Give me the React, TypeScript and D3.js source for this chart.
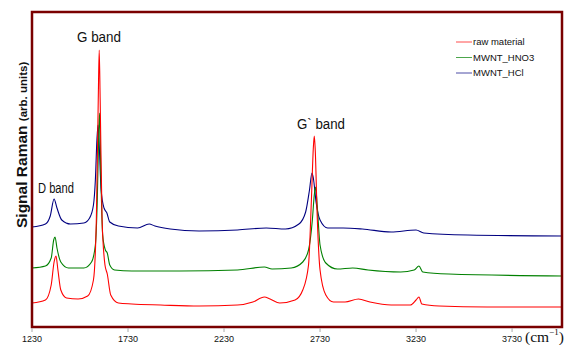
import React, { useEffect, useRef } from "react";
import * as d3 from "d3";

// wavenumber (cm-1), intensity (arb. units)
const rawMaterial: [number, number][] = [
  [1230, 24], [1300, 27], [1330, 42], [1345, 65], [1355, 71], [1365, 57], [1380, 37],
  [1410, 29], [1470, 28], [1520, 31], [1550, 47], [1565, 107], [1575, 227], [1580, 277],
  [1585, 227], [1595, 107], [1610, 62], [1622, 53], [1640, 32], [1680, 24], [1750, 23],
  [1900, 22], [2100, 21], [2300, 22], [2380, 25], [2440, 30], [2470, 28], [2520, 24],
  [2600, 27], [2640, 37], [2670, 62], [2685, 127], [2695, 179], [2700, 191], [2705, 177],
  [2715, 112], [2730, 57], [2760, 32], [2800, 25], [2860, 25], [2930, 28], [2990, 25],
  [3100, 22], [3200, 22], [3230, 27], [3245, 30], [3260, 23], [3350, 21], [3600, 20], [3990, 20],
];

const mwntHNO3: [number, number][] = [
  [1230, 59], [1300, 61], [1330, 69], [1343, 87], [1350, 90], [1360, 79], [1380, 65],
  [1420, 59], [1500, 59], [1540, 65], [1560, 82], [1570, 127], [1578, 197], [1582, 214],
  [1588, 157], [1598, 92], [1612, 77], [1622, 74], [1635, 62], [1660, 57], [1750, 56],
  [2000, 56], [2300, 57], [2440, 60], [2480, 58], [2580, 59], [2640, 65], [2670, 77],
  [2690, 107], [2700, 132], [2707, 140], [2715, 122], [2730, 82], [2760, 64], [2820, 58],
  [2900, 59], [2980, 57], [3150, 55], [3220, 57], [3245, 61], [3265, 55], [3400, 53], [3990, 51],
];

const mwntHCl: [number, number][] = [
  [1230, 100], [1300, 103], [1325, 111], [1345, 128], [1360, 119], [1385, 107], [1430, 103],
  [1500, 104], [1530, 109], [1550, 122], [1560, 147], [1568, 187], [1574, 202], [1580, 182],
  [1590, 137], [1605, 119], [1620, 114], [1635, 105], [1680, 101], [1780, 99], [1840, 103],
  [1870, 101], [1950, 98], [2100, 96], [2300, 97], [2450, 99], [2550, 98], [2620, 103],
  [2655, 115], [2675, 137], [2688, 154], [2695, 149], [2710, 124], [2730, 107], [2770, 99],
  [2850, 99], [2950, 98], [3100, 95], [3230, 97], [3270, 94], [3500, 92], [3990, 91],
];

const seriesNames = ["raw material", "MWNT_HNO3", "MWNT_HCl"];
const seriesColors = ["#ff0000", "#008000", "#000080"];
const xTicks = [1230, 1730, 2230, 2730, 3230, 3730];

const App = () => {
  const svgRef = useRef<SVGSVGElement>(null);

  useEffect(() => {
    const svg = d3.select(svgRef.current);
    svg.selectAll("*").remove();

    const width = 569;
    const height = 345;
    const left = 32, right = 562, top = 12, bottom = 327;

    const x = d3.scaleLinear().domain([1230, 3990]).range([left, right]);
    const y = d3.scaleLinear().domain([0, 315]).range([bottom, top]);

    svg.attr("width", width).attr("height", height);

    const line = d3.line<[number, number]>()
      .x(d => x(d[0]))
      .y(d => y(d[1]))
      .curve(d3.curveMonotoneX);

    // draw bottom-most first so red sits on top like the original
    const all = [mwntHCl, mwntHNO3, rawMaterial];
    const cols = [seriesColors[2], seriesColors[1], seriesColors[0]];
    all.forEach((s, i) => {
      svg.append("path")
        .attr("d", line(s))
        .attr("fill", "none")
        .attr("stroke", cols[i])
        .attr("stroke-width", 1.1);
    });

    // frame
    svg.append("rect")
      .attr("x", left).attr("y", top)
      .attr("width", right - left).attr("height", bottom - top)
      .attr("fill", "none")
      .attr("stroke", "#7a0000")
      .attr("stroke-width", 2.5);

    // x ticks
    const ax = svg.append("g");
    xTicks.forEach(t => {
      ax.append("line")
        .attr("x1", x(t)).attr("x2", x(t))
        .attr("y1", bottom + 1).attr("y2", bottom + 5)
        .attr("stroke", "#aaa").attr("stroke-width", 1);
      ax.append("text")
        .attr("x", x(t)).attr("y", 342)
        .attr("text-anchor", "middle")
        .style("font-family", "Liberation Sans, Arial, sans-serif")
        .style("font-size", "9px")
        .attr("fill", "#111")
        .text(t);
    });

    // (cm-1)
    const unit = svg.append("text")
      .attr("x", 525).attr("y", 342)
      .style("font-family", "Liberation Serif, Times New Roman, serif")
      .style("font-size", "15.5px")
      .attr("fill", "#111");
    unit.append("tspan").text("(cm");
    unit.append("tspan").attr("dy", -7).style("font-size", "9px").text("\u22121");
    unit.append("tspan").attr("dy", 7).text(")");

    // y label
    const yl = svg.append("text")
      .attr("transform", "translate(27,228) rotate(-90)")
      .style("font-family", "Liberation Sans, Arial, sans-serif")
      .style("font-weight", "bold")
      .attr("fill", "#111");
    yl.append("tspan").style("font-size", "15.5px").text("Signal Raman ");
    yl.append("tspan").style("font-size", "11.5px").text("(arb. units)");

    // band annotations
    const ann = [
      { t: "G band", x: 77, y: 42, w: 44 },
      { t: "D band", x: 38, y: 193, w: 36 },
      { t: "G` band", x: 297, y: 129, w: 48 },
    ];
    ann.forEach(a => {
      svg.append("text")
        .attr("x", a.x).attr("y", a.y)
        .attr("textLength", a.w)
        .attr("lengthAdjust", "spacingAndGlyphs")
        .style("font-family", "Liberation Sans, Arial, sans-serif")
        .style("font-size", "14px")
        .attr("fill", "#111")
        .text(a.t);
    });

    // legend
    seriesNames.forEach((n, i) => {
      const ly = 42 + i * 15.5;
      svg.append("line")
        .attr("x1", 456).attr("x2", 472)
        .attr("y1", ly).attr("y2", ly)
        .attr("stroke", seriesColors[i])
        .attr("stroke-opacity", 0.7)
        .attr("stroke-width", 1);
      svg.append("text")
        .attr("x", 473).attr("y", ly + 3.3)
        .style("font-family", "Liberation Sans, Arial, sans-serif")
        .style("font-size", "9.5px")
        .attr("fill", "#111")
        .text(n);
    });
  }, []);

  return (
    <svg
      ref={svgRef}
      style={{ position: "absolute", left: 0, top: 0, background: "white" }}
    />
  );
};

export default App;
